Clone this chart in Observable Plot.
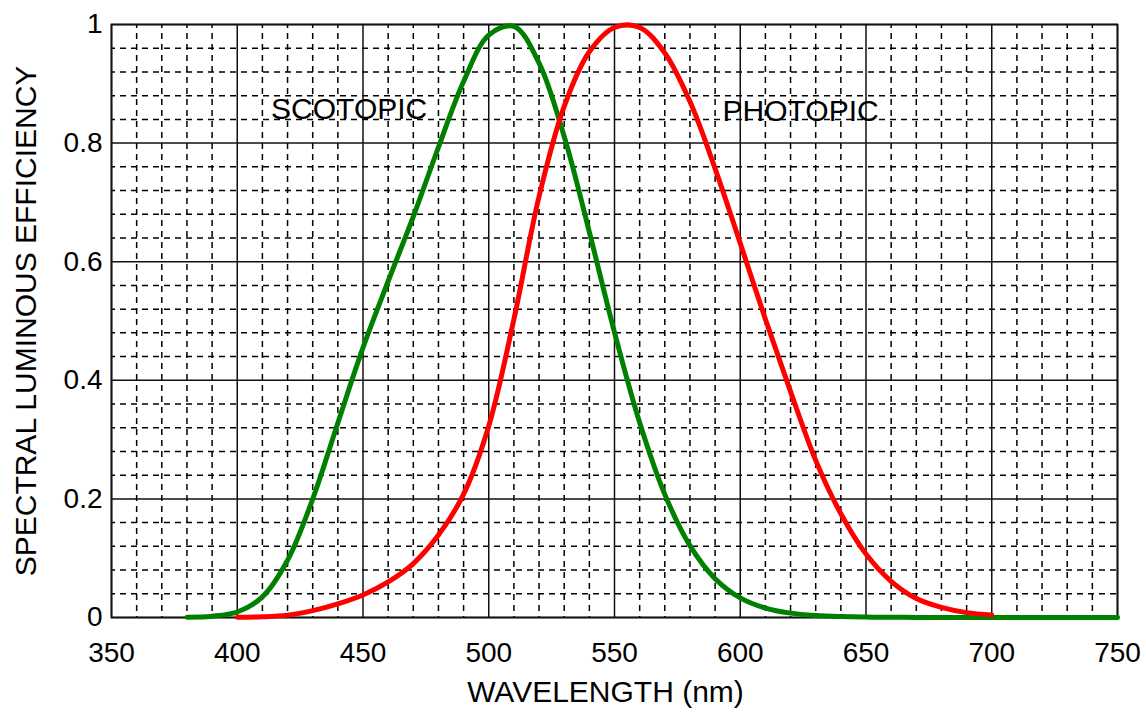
<!DOCTYPE html>
<html>
<head>
<meta charset="utf-8">
<script src="https://cdn.jsdelivr.net/npm/d3@7"></script>
<script src="https://cdn.jsdelivr.net/npm/@observablehq/plot@0.6"></script>
<style>
  html, body { margin: 0; padding: 0; background: #fff; }
  #chart svg { display: block; }
</style>
</head>
<body>
<div id="chart"></div>
<script>
// Scotopic (green) curve
const scotopicWavelength = [380,390,400,410,420,430,440,450,460,470,480,490,500,510,520,530,540,550,560,570,580,590,600,610,620,630,640,650,660,670,680,690,700,710,720,730,740,750];
const scotopicValue = [0.000589,0.002209,0.00929,0.03484,0.0966,0.1998,0.3281,0.455,0.567,0.676,0.793,0.904,0.982,0.997,0.935,0.811,0.650,0.481,0.3288,0.2076,0.1212,0.0655,0.03315,0.01593,0.00737,0.003335,0.001497,0.000677,0.000313,0.000148,0.0000715,0.0000353,0.0000178,0.0000091,0.0000047,0.0000025,0.0000013,0.0000007];
// Photopic (red) curve
const photopicWavelength = [400,410,420,430,440,450,460,470,480,490,500,510,520,530,540,550,560,570,580,590,600,610,620,630,640,650,660,670,680,690,700];
const photopicValue = [0.000396,0.00121,0.004,0.0116,0.023,0.038,0.06,0.091,0.139,0.208,0.323,0.503,0.71,0.862,0.954,0.995,0.995,0.952,0.87,0.757,0.631,0.503,0.381,0.265,0.175,0.107,0.061,0.032,0.017,0.0082,0.0041];

const xTickLabels = [350,400,450,500,550,600,650,700,750];
const yTickLabels = [0,0.2,0.4,0.6,0.8,1];
const xMinor = d3.range(350, 751, 10).filter(v => v % 50 !== 0);
const yMinor = d3.range(0, 25).map(i => i * 0.04).filter((v, i) => i % 5 !== 0);

const curveLabels = ["SCOTOPIC", "PHOTOPIC"];
const curveLabelX = [444.5, 624];
const curveLabelY = [0.857, 0.853];

const scotopic = scotopicWavelength.map((w, i) => ({w, v: scotopicValue[i]}));
const photopic = photopicWavelength.map((w, i) => ({w, v: photopicValue[i]}));
const labels = curveLabels.map((t, i) => ({t, x: curveLabelX[i], y: curveLabelY[i]}));

const font = "'Liberation Sans', Arial, sans-serif";

const chart = Plot.plot({
  width: 1146,
  height: 717,
  marginLeft: 111,
  marginRight: 29,
  marginTop: 24,
  marginBottom: 100,
  style: {fontFamily: font, background: "#fff", color: "#000"},
  x: {domain: [350, 750], label: null},
  y: {domain: [0, 1], label: null},
  marks: [
    Plot.ruleX(xMinor, {stroke: "#000", strokeWidth: 1.5, strokeDasharray: "6,5", strokeDashoffset: 2}),
    Plot.ruleY(yMinor, {stroke: "#000", strokeWidth: 1.5, strokeDasharray: "6,5", strokeDashoffset: 2}),
    Plot.ruleX(xTickLabels, {stroke: "#111", strokeWidth: 1.5}),
    Plot.ruleY(yTickLabels, {stroke: "#111", strokeWidth: 1.5}),
    Plot.frame({stroke: "#111", strokeWidth: 1.8}),
    Plot.line(scotopic, {x: "w", y: "v", stroke: "#008000", strokeWidth: 5, curve: "catmull-rom"}),
    Plot.line(photopic, {x: "w", y: "v", stroke: "#ff0000", strokeWidth: 5, curve: "catmull-rom"}),
    Plot.text(labels, {x: "x", y: "y", text: "t", fontSize: 30, fill: "#000"}),
    Plot.axisX({ticks: xTickLabels, tickSize: 0, tickPadding: 25, fontSize: 28, label: null, tickFormat: d => String(d)}),
    Plot.axisY({ticks: yTickLabels, tickSize: 0, tickPadding: 9, fontSize: 28, label: null, tickFormat: d => String(d)}),
    Plot.text(["WAVELENGTH (nm)"], {frameAnchor: "bottom", dy: 84, dx: -9, fontSize: 30, fill: "#000"}),
    Plot.text(["SPECTRAL LUMINOUS EFFICIENCY"], {frameAnchor: "left", dx: -85, rotate: -90, textAnchor: "middle", fontSize: 30, fill: "#000"})
  ]
});
document.getElementById("chart").appendChild(chart);
</script>
</body>
</html>
